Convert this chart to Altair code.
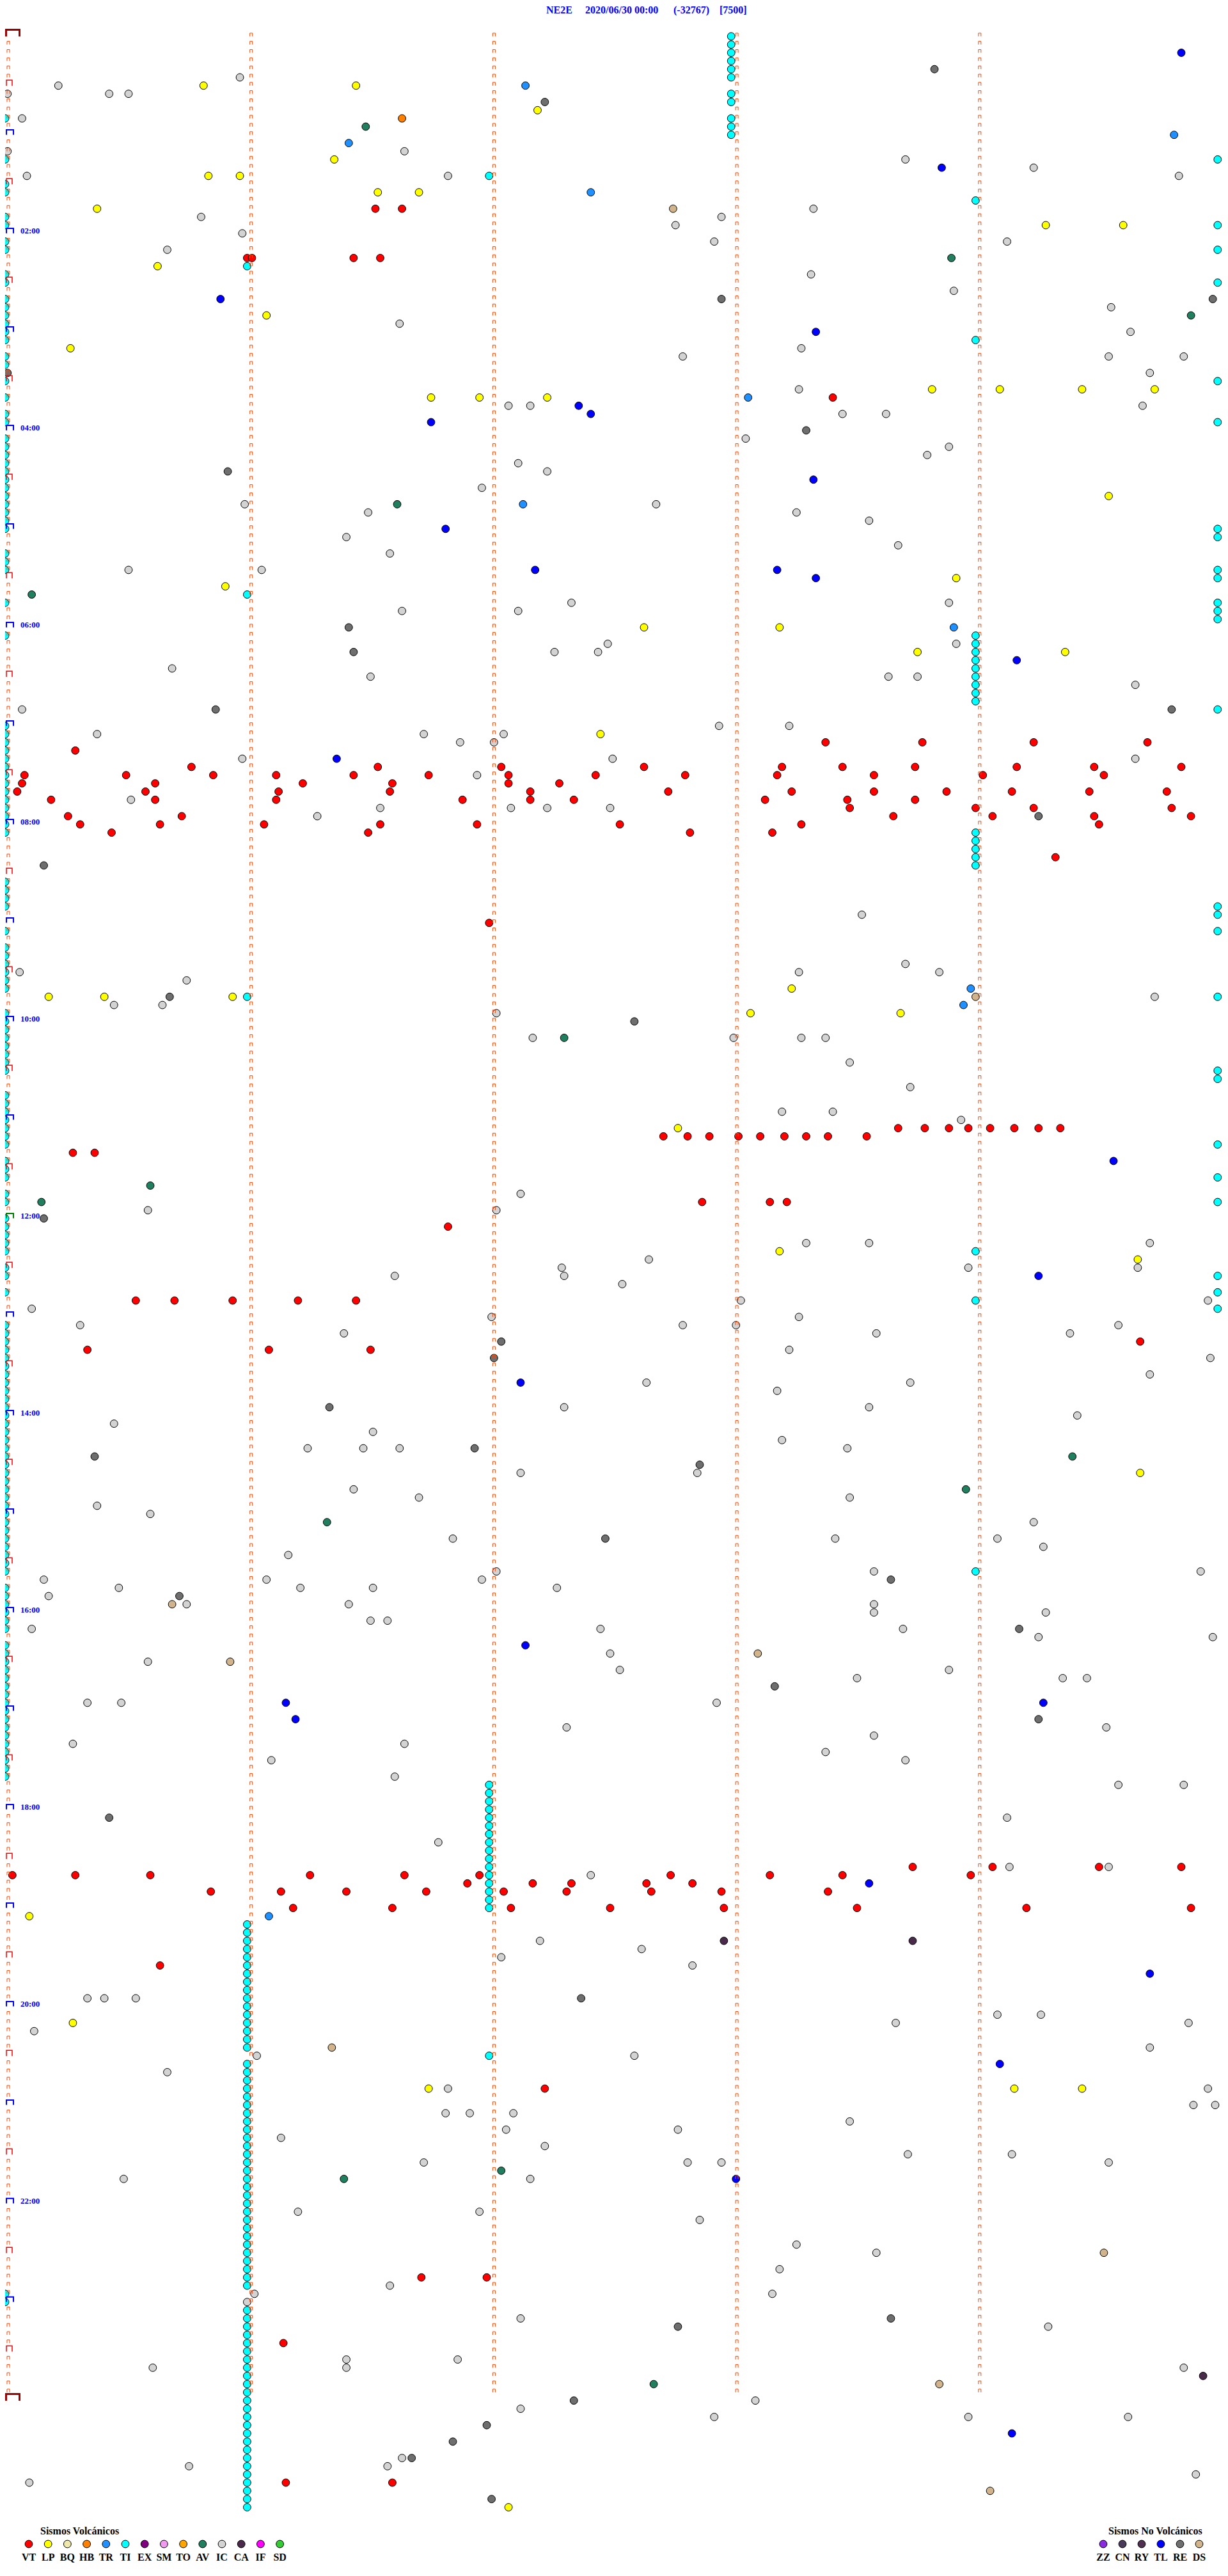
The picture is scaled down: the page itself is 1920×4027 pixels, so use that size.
import altair as alt
import pandas as pd

# ---------------- text ----------------
TITLE_PARTS = ["NE2E", "2020/06/30 00:00", "(-32767)", "[7500]"]
TITLE_X = [846, 907, 1045, 1117]          # left edge of each title piece (px)
HOUR_LABELS = ["02:00", "04:00", "06:00", "08:00", "10:00", "12:00",
               "14:00", "16:00", "18:00", "20:00", "22:00"]
HOUR_LABEL_ROWS = [24, 48, 72, 96, 120, 144, 168, 192, 216, 240, 264]

VOLC_CODES = ["VT", "LP", "BQ", "HB", "TR", "TI", "EX", "SM", "TO", "AV", "IC", "CA", "IF", "SD"]
VOLC_COLORS = ["#FF0000", "#FFFF00", "#EEE8AA", "#FF8000", "#1E90FF", "#00FFFF", "#800080",
               "#EE9AEE", "#FFA500", "#1F7F5F", "#D3D3D3", "#4A2A4A", "#FF00FF", "#33CC33"]
NOVOLC_CODES = ["ZZ", "CN", "RY", "TL", "RE", "DS"]
NOVOLC_COLORS = ["#8A2BE2", "#4A3A5A", "#503050", "#0000FF", "#6E6E6E", "#D2B48C"]

# ---------------- events: row (5-minute line) -> minute offsets ----------------
TI_COLUMNS = {
    0.0: [10, 15, 18, 19, 22, 23, 25, 26, 29, 30, 32, 33, 34, 35, 36, 37, 39, 40, 42, 44, 46, 47,
          49, 50, 51, 52, 53, 54, 55, 56, 57, 58, 59, 60, 63, 64, 65, 69, 73,
          84, 85, 86, 87, 88, 89, 90, 91, 92, 93, 94, 95, 96, 97,
          103, 104, 105, 106, 109, 111, 112, 113, 114, 115, 116,
          119, 120, 121, 122, 123, 124, 125, 126, 129, 130, 131, 132, 133, 134, 135,
          137, 138, 139, 141, 142, 144, 145, 146, 147, 148, 150, 151, 153,
          157, 158, 159, 160, 161, 162, 163, 164, 165, 166, 167, 168, 169, 170, 171, 172,
          173, 174, 175, 176, 177, 178, 179, 180, 181, 182, 183, 184, 185, 186, 187,
          189, 190, 191, 192, 193, 194,
          196, 197, 198, 199, 200, 201, 202, 203, 204, 205, 206, 207, 208, 209, 210, 211, 212,
          275, 276],
    1.0: [28, 68, 117,
          230, 231, 232, 233, 234, 235, 236, 237, 238, 239, 240, 241, 242, 243, 244, 245,
          247, 248, 249, 250, 251, 252, 253, 254, 255, 256, 257, 258, 259, 260, 261, 262,
          263, 264, 265, 266, 267, 268, 269, 270, 271, 272, 273, 274,
          277, 278, 279, 280, 281, 282, 283, 284, 285, 286, 287, 288, 289, 290, 291, 292,
          293, 294, 295, 296, 297, 298, 299, 300, 301],
    2.0: [17, 213, 214, 215, 216, 217, 218, 219, 220, 221, 222, 223, 224, 225, 226, 227, 228, 246],
    3.0: [0, 1, 2, 3, 4, 5, 7, 8, 10, 11, 12],
    4.01: [20, 37, 73, 74, 75, 76, 77, 78, 79, 80, 81, 97, 98, 99, 100, 101, 148, 154, 187],
    5.01: [15, 23, 26, 30, 42, 47, 60, 61, 65, 66, 69, 70, 71, 82, 106, 107, 109, 117,
           126, 127, 135, 139, 142, 151, 153, 155],
}

VT_EVENTS = {21: [1.53, 1.64], 27: [1.00, 1.02, 1.44, 1.55], 44: [3.42],
             86: [3.39, 3.79, 4.25, 4.72], 87: [0.29],
             89: [0.77, 1.54, 2.05, 2.64, 3.21, 3.46, 3.76, 4.18, 4.50, 4.86],
             90: [0.08, 0.50, 0.86, 1.12, 1.44, 1.75, 2.08, 2.44, 2.81, 3.19, 3.59, 4.04, 4.54],
             91: [0.07, 0.62, 1.23, 1.60, 2.08, 2.29],
             92: [0.05, 0.58, 1.13, 1.59, 2.17, 2.74, 3.25, 3.59, 3.89, 4.16, 4.48, 4.80],
             93: [0.19, 0.62, 1.12, 1.89, 2.17, 2.35, 3.14, 3.48, 3.76],
             94: [3.49, 4.01, 4.25, 4.82], 95: [0.26, 0.73, 3.67, 4.08, 4.50, 4.90],
             96: [0.31, 0.64, 1.07, 1.55, 1.95, 2.54, 3.29, 4.52], 97: [0.44, 1.50, 2.83, 3.17],
             100: [4.34], 108: [2.00],
             133: [3.69, 3.80, 3.90, 3.98, 4.07, 4.17, 4.27, 4.36],
             134: [2.72, 2.82, 2.91, 3.03, 3.12, 3.22, 3.31, 3.40, 3.56],
             136: [0.28, 0.37], 142: [2.88, 3.16, 3.23], 145: [1.83],
             154: [0.54, 0.70, 0.94, 1.21, 1.45], 159: [4.69], 160: [0.34, 1.09, 1.51],
             223: [3.75, 4.08, 4.52, 4.86],
             224: [0.03, 0.29, 0.60, 1.26, 1.65, 1.96, 2.75, 3.16, 3.46, 3.99],
             225: [1.91, 2.18, 2.34, 2.65, 2.84],
             226: [0.85, 1.14, 1.41, 1.74, 2.06, 2.32, 2.67, 2.96, 3.40],
             228: [1.19, 1.60, 2.09, 2.50, 2.97, 3.52, 4.22, 4.90],
             235: [0.64], 250: [2.23], 273: [1.72, 1.99], 281: [1.15], 298: [1.16, 1.60]}

LP_EVENTS = {6: [0.82, 1.45], 9: [2.20], 15: [1.36], 17: [0.84, 0.97], 19: [1.54, 1.71],
             21: [0.38], 23: [4.30, 4.62], 28: [0.63], 34: [1.08], 38: [0.27],
             43: [3.83, 4.11, 4.45, 4.75], 44: [1.76, 1.96, 2.24], 56: [4.56], 66: [3.93],
             67: [0.91], 72: [2.64, 3.20], 75: [3.77, 4.38], 85: [2.46], 116: [3.25],
             117: [0.18, 0.41, 0.94], 119: [3.08, 3.70], 133: [2.78], 148: [3.20], 149: [4.68],
             175: [4.69], 229: [0.10], 242: [0.28], 250: [1.75, 4.17, 4.45], 301: [2.08]}

HB_EVENTS = {10: [1.64]}

TR_EVENTS = {6: [2.15], 12: [4.83], 13: [1.42], 19: [2.42], 44: [3.07], 57: [2.14],
             72: [3.92], 116: [3.99], 118: [3.96], 229: [1.09]}

AV_EVENTS = {11: [1.49], 27: [3.91], 34: [4.90], 57: [1.62], 68: [0.11], 122: [2.31],
             140: [0.60], 142: [0.15], 173: [4.41], 177: [3.97], 181: [1.33], 260: [2.05],
             261: [1.40], 286: [2.68]}

CA_EVENTS = {232: [2.97, 3.75], 285: [4.95]}

TL_EVENTS = {2: [4.86], 16: [3.87], 32: [0.89], 36: [3.35], 45: [2.37], 46: [2.42], 47: [1.76],
             54: [3.34], 60: [1.82], 65: [2.19, 3.19], 66: [3.35], 76: [4.18], 88: [1.37],
             137: [4.58], 151: [4.27], 164: [2.13], 196: [2.15], 203: [1.16, 4.29], 205: [1.20],
             225: [3.57], 236: [4.73], 247: [4.11], 261: [3.02], 292: [4.16]}

RE_EVENTS = {4: [3.84], 8: [2.23], 32: [2.96, 4.99], 41: [0.01], 48: [3.31], 53: [0.92],
             72: [1.42], 75: [1.44], 82: [0.87, 4.82], 95: [4.27], 101: [0.16], 117: [0.68],
             120: [2.60], 144: [0.16], 159: [2.05], 161: [2.02], 167: [1.34], 172: [1.94],
             173: [0.37], 174: [2.87], 183: [2.48], 188: [3.66], 190: [0.72], 194: [4.19],
             201: [3.18], 205: [4.27], 217: [0.43], 239: [2.38], 278: [3.66], 279: [2.78],
             288: [2.35], 291: [1.99], 293: [1.85], 295: [1.68], 300: [2.01]}

DS_EVENTS = {21: [2.76], 117: [4.01], 191: [0.69], 197: [3.11], 198: [0.93], 245: [1.35],
             270: [4.54], 286: [3.86], 299: [4.07]}

IC_EVENTS = {5: [0.97], 6: [0.22], 7: [0.01, 0.43, 0.51], 10: [0.07], 14: [0.01, 1.65],
             15: [3.72], 16: [4.25], 17: [0.09, 1.83, 4.85], 21: [3.34], 22: [0.81, 2.96],
             23: [2.77], 24: [0.98], 25: [2.93, 4.14], 26: [0.67], 29: [3.33], 31: [3.92],
             33: [4.57], 35: [1.63], 36: [4.65], 38: [3.29], 39: [2.80, 4.56, 4.87], 41: [4.73],
             43: [3.28], 45: [2.08, 2.17, 4.70], 46: [3.46, 3.64], 49: [3.06], 50: [3.90],
             51: [3.81], 52: [2.12], 53: [2.24], 55: [1.97], 57: [0.99, 2.69], 58: [1.50, 3.27],
             59: [3.57], 61: [1.41], 62: [3.69], 63: [1.59], 65: [0.51, 1.06], 69: [2.34, 3.90],
             70: [1.64, 2.12], 74: [2.49, 3.93], 75: [2.27, 2.45], 77: [0.69],
             78: [1.51, 3.65, 3.77], 79: [4.67], 82: [0.07], 84: [2.95, 3.24],
             85: [0.38, 1.73, 2.06], 86: [1.88, 2.02], 88: [0.98, 2.51, 4.67], 90: [1.95],
             93: [0.52], 94: [1.55, 2.09, 2.24, 2.50], 95: [1.29], 107: [3.54], 113: [3.72],
             114: [0.06, 3.28, 3.86], 115: [0.75], 117: [4.75], 118: [0.45, 0.65], 119: [2.03],
             122: [2.18, 3.01, 3.29, 3.39], 125: [3.49], 128: [3.74], 131: [3.21, 3.42],
             132: [3.95], 141: [2.13], 143: [0.59, 2.03], 147: [3.31, 3.57, 4.73], 149: [2.66],
             150: [2.30, 3.98, 4.68], 151: [1.61, 2.31], 152: [2.55], 154: [3.04, 4.97],
             155: [0.11], 156: [2.01, 3.28], 157: [0.31, 2.80, 3.02, 4.60],
             158: [1.40, 3.60, 4.40], 160: [3.24], 161: [4.98], 163: [4.73], 164: [2.65, 3.74],
             165: [3.19], 167: [2.31, 3.57], 168: [4.43], 169: [0.45], 170: [1.52], 171: [3.21],
             172: [1.25, 1.48, 1.63, 3.48], 175: [2.13, 2.86], 177: [1.44], 178: [1.71, 3.49],
             179: [0.38], 180: [0.60], 181: [4.25], 183: [1.85, 3.43, 4.10], 184: [4.29],
             185: [1.17], 187: [2.03, 3.59, 4.94], 188: [0.16, 1.08, 1.97],
             189: [0.47, 1.22, 1.52, 2.28], 190: [0.18], 191: [0.75, 1.42, 3.59],
             192: [3.59, 4.30], 193: [1.51, 1.58], 194: [0.11, 2.46, 3.71], 195: [4.27, 4.99],
             197: [2.50], 198: [0.59], 199: [2.54, 3.90], 200: [3.52, 4.37, 4.47],
             203: [0.34, 0.48, 2.94], 206: [2.32, 4.55], 207: [3.59], 208: [0.28, 1.65],
             209: [3.39], 210: [1.10, 3.72], 212: [1.61], 213: [4.60, 4.87], 217: [4.14],
             220: [1.79], 223: [4.15, 4.56], 224: [2.42], 232: [2.21], 233: [2.63], 234: [2.05],
             235: [2.84], 239: [0.34, 0.41, 0.54], 241: [4.10, 4.28], 242: [3.68, 4.89],
             243: [0.12], 245: [4.73], 246: [1.04, 2.60], 248: [0.67], 250: [1.83, 4.97],
             252: [4.91, 5.00], 253: [1.82, 1.92, 2.10], 254: [3.49], 255: [2.07, 2.78],
             256: [1.14], 257: [2.23], 258: [3.73, 4.16], 259: [1.73, 2.82, 2.96, 4.56],
             261: [0.49, 2.17], 265: [1.21, 1.96], 266: [2.87], 269: [3.27], 270: [3.60],
             272: [3.20], 274: [1.59], 275: [1.03, 3.17], 276: [1.00], 278: [2.13], 279: [4.31],
             283: [1.41, 1.87], 284: [0.61, 1.41, 4.87], 288: [3.10], 289: [2.13],
             290: [2.93, 3.98, 4.64], 295: [1.64], 296: [0.76, 1.58], 297: [4.92], 298: [0.10]}

# ---------------- build the event table ----------------
records = []
for minute, rows in TI_COLUMNS.items():
    for r in rows:
        records.append({"type": "TI", "row": r, "minute": minute})
for code, table in [("IC", IC_EVENTS), ("RE", RE_EVENTS), ("DS", DS_EVENTS), ("CA", CA_EVENTS),
                    ("AV", AV_EVENTS), ("TR", TR_EVENTS), ("HB", HB_EVENTS), ("TL", TL_EVENTS),
                    ("LP", LP_EVENTS), ("VT", VT_EVENTS)]:
    for r, mins in table.items():
        for m in mins:
            records.append({"type": code, "row": r, "minute": m})
events_df = pd.DataFrame(records)
events_df["order"] = range(len(events_df))

# ---------------- helicorder line markers ----------------
N_ROWS = 288
MINUTE_LINES = [0, 1, 2, 3, 4]
NOON_ROWS = [144]
HOUR_ROWS = [12 * h for h in range(1, 24) if 12 * h not in NOON_ROWS]
HALF_ROWS = [6 + 12 * h for h in range(24)]
DAY_EDGE_ROWS = [0, 288]
special = set(HOUR_ROWS + NOON_ROWS + HALF_ROWS + DAY_EDGE_ROWS)
small_df = pd.DataFrame([{"row": r, "minute": k} for r in range(N_ROWS) for k in MINUTE_LINES
                         if not (k == 0 and r in special)])

# event scale (circles) and the slightly different scale of the minute tick marks
X_EVENTS = alt.Scale(domain=[0.0, 5.0317], nice=False, zero=False)
X_TICKS = alt.Scale(domain=[-0.01317, 5.0013], nice=False, zero=False)
Y = alt.Scale(domain=[-3.803, 308.75], nice=False, zero=False, reverse=True)

BRACKET = "M -1 1 L -1 -1 L 1 -1 L 1 1"
SMALL_BRACKET = "M -0.8 1 L -0.8 -1 L 0.8 -1 L 0.8 1"
FLAT_BRACKET = "M -1 0.7 L -1 -0.7 L 1 -0.7 L 1 0.7"
WIDE_BRACKET = "M -1 0.5 L -1 -0.5 L 1 -0.5 L 1 0.5"


def bracket_layer(df, shape, size, color, width, xoff, yoff):
    return alt.Chart(df).mark_point(shape=shape, size=size, filled=False, color=color,
                                    strokeWidth=width, opacity=1, xOffset=xoff,
                                    yOffset=yoff).encode(
        x=alt.X("minute:Q", scale=X_TICKS, axis=None),
        y=alt.Y("row:Q", scale=Y, axis=None))


events = alt.Chart(events_df).mark_circle(size=140, stroke="#000000", strokeWidth=1,
                                          opacity=1).encode(
    x=alt.X("minute:Q", scale=X_EVENTS, axis=None),
    y=alt.Y("row:Q", scale=Y, axis=None),
    fill=alt.Fill("type:N", scale=alt.Scale(domain=VOLC_CODES + NOVOLC_CODES,
                                            range=VOLC_COLORS + NOVOLC_COLORS), legend=None),
    order=alt.Order("order:Q"))

small = bracket_layer(small_df, SMALL_BRACKET, 25, "#FF4500", 1, 0, -2.5)
hours = bracket_layer(pd.DataFrame({"row": HOUR_ROWS, "minute": 0}), FLAT_BRACKET, 121,
                      "#0000FF", 2, 2.5, -4)
noon = bracket_layer(pd.DataFrame({"row": NOON_ROWS, "minute": 0}), FLAT_BRACKET, 121,
                     "#008000", 2, 2.5, -4)
halves = bracket_layer(pd.DataFrame({"row": HALF_ROWS, "minute": 0}), BRACKET, 81,
                       "#FF0000", 1.5, 1.5, -4)
edges = bracket_layer(pd.DataFrame({"row": DAY_EDGE_ROWS, "minute": 0}), WIDE_BRACKET, 441,
                      "#990000", 3, 7, -5)

hour_text = alt.Chart(pd.DataFrame({"label": HOUR_LABELS, "row": HOUR_LABEL_ROWS})).mark_text(
    align="left", baseline="middle", font="Liberation Serif", fontSize=13, fontWeight="bold",
    color="#0000FF", yOffset=-4).encode(
    x=alt.value(24), y=alt.Y("row:Q", scale=Y, axis=None), text="label:N")

title_layers = [
    alt.Chart(pd.DataFrame({"t": [txt]})).mark_text(
        align="left", baseline="top", font="Liberation Serif", fontSize=16,
        fontWeight="bold", color="#0000FF").encode(x=alt.value(xp), y=alt.value(0), text="t:N")
    for txt, xp in zip(TITLE_PARTS, TITLE_X)
]

legend_df = pd.DataFrame(
    [{"code": c, "color": col, "group": 0, "i": i} for i, (c, col) in enumerate(zip(VOLC_CODES, VOLC_COLORS))]
    + [{"code": c, "color": col, "group": 1, "i": i} for i, (c, col) in enumerate(zip(NOVOLC_CODES, NOVOLC_COLORS))])

legend_base = alt.Chart(legend_df).transform_calculate(
    px="datum.group == 0 ? 37 + 30.2 * datum.i : 1717 + 30 * datum.i")
legend_dots = legend_base.mark_circle(size=140, stroke="#000000", strokeWidth=1, opacity=1).encode(
    x=alt.X("px:Q", scale=None), y=alt.value(3969), fill=alt.Fill("color:N", scale=None))
legend_labels = legend_base.mark_text(
    align="center", baseline="middle", font="Liberation Serif", fontSize=16, fontWeight="bold",
    color="#000000").encode(x=alt.X("px:Q", scale=None), y=alt.value(3990), text="code:N")

legend_titles = [
    alt.Chart(pd.DataFrame({"t": [txt]})).mark_text(
        align="left", baseline="middle", font="Liberation Serif", fontSize=16,
        fontWeight="bold", color="#000000").encode(x=alt.value(xp), y=alt.value(3949), text="t:N")
    for txt, xp in [("Sismos Volcánicos", 55), ("Sismos No Volcánicos", 1725)]
]

chart = alt.layer(
    events, small, halves, hours, noon, edges, hour_text, *title_layers,
    legend_dots, legend_labels, *legend_titles
).resolve_scale(
    x="independent", y="independent", fill="independent"
).properties(
    width=1904, height=4011, autosize="none", padding=0, background="white"
).configure_view(stroke=None)

chart.save("out.html", embed_options={"renderer": "svg", "actions": False})
